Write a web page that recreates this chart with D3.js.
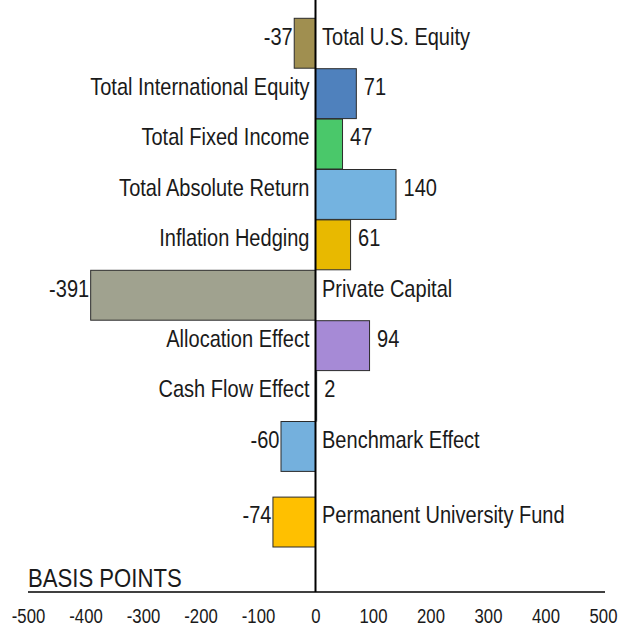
<!DOCTYPE html>
<html><head><meta charset="utf-8">
<script src="https://cdn.jsdelivr.net/npm/d3@7/dist/d3.min.js"></script>
<style>
html,body{margin:0;padding:0;background:#fff;}
svg text{font-family:"Liberation Sans Narrow","Arial Narrow","Liberation Sans",Arial,sans-serif;fill:#1a1a1a;}
</style></head><body>
<svg id="chart" width="630" height="628"></svg>
<script>
const categories = ["Total U.S. Equity","Total International Equity","Total Fixed Income","Total Absolute Return","Inflation Hedging","Private Capital","Allocation Effect","Cash Flow Effect","Benchmark Effect","Permanent University Fund"];
const values = [-37, 71, 47, 140, 61, -391, 94, 2, -60, -74];
const colors = ["#A08F50","#4F81BD","#4AC86A","#74B3E0","#E8B900","#A0A28F","#A68AD6","#4F81BD","#74B0DD","#FFC000"];
const tickValues = [-500,-400,-300,-200,-100,0,100,200,300,400,500];
const axisTitle = "BASIS POINTS";

const SX = 0.835; // narrow-face emulation
const svg = d3.select("#chart");
const x = d3.scaleLinear().domain([-500, 500]).range([28, 603]);
// slot index; the fund total row is set apart by half a row
const slot = (i) => i === categories.length - 1 ? i + 0.5 : i;
const y = d3.scaleLinear().domain([0, categories.length + 0.5]).range([18.3, 547.5]);
const bh = y(1) - y(0);

const rows = categories.map((c, i) => ({c, v: values[i], col: colors[i], i}));

svg.selectAll("rect.bar").data(rows).join("rect")
  .attr("class","bar")
  .attr("x", d => x(Math.min(0, d.v)))
  .attr("y", d => y(slot(d.i)))
  .attr("width", d => Math.abs(x(d.v) - x(0)))
  .attr("height", bh - 0.5)
  .attr("fill", d => d.col)
  .attr("stroke", "#2b2b2b")
  .attr("stroke-width", 1);

const fs = 24;
svg.selectAll("text.cat").data(rows).join("text")
  .attr("class","cat")
  .attr("transform", d => `translate(${d.v >= 0 ? x(0) - 6 : x(0) + 6.5},${y(slot(d.i)) + bh/2 + 1}) scale(${SX},1)`)
  .attr("text-anchor", d => d.v >= 0 ? "end" : "start")
  .style("font-size", fs + "px")
  .text(d => d.c);

svg.selectAll("text.val").data(rows).join("text")
  .attr("class","val")
  .attr("transform", d => `translate(${d.v >= 0 ? x(d.v) + 7.5 : x(d.v) - 1.5},${y(slot(d.i)) + bh/2 + 1}) scale(${SX},1)`)
  .attr("text-anchor", d => d.v >= 0 ? "start" : "end")
  .style("font-size", fs + "px")
  .text(d => String(d.v));

// zero line
svg.append("line").attr("x1", x(0)).attr("x2", x(0)).attr("y1", 0).attr("y2", 592)
  .attr("stroke", "#000").attr("stroke-width", 2);

// axis
const axis = d3.axisBottom(x).tickValues(tickValues).tickSize(0).tickPadding(0).tickFormat(d => String(d));
const g = svg.append("g").attr("transform", "translate(0,592)").call(axis);
g.select(".domain").attr("d", `M${x(-500)},0H${x(500)+2}`).attr("stroke", "#000").attr("stroke-width", 1.5);
g.selectAll(".tick text")
  .attr("y", null).attr("dy", null)
  .attr("transform", `translate(0,31) scale(${SX},1)`)
  .style("font-size", "20px").attr("fill", "#1a1a1a")
  .style("font-family", "'Liberation Sans Narrow','Arial Narrow','Liberation Sans',Arial,sans-serif");

svg.append("text").attr("transform", `translate(28,587) scale(${SX},1)`).style("font-size", "26.5px").text(axisTitle);
</script>
</body></html>
